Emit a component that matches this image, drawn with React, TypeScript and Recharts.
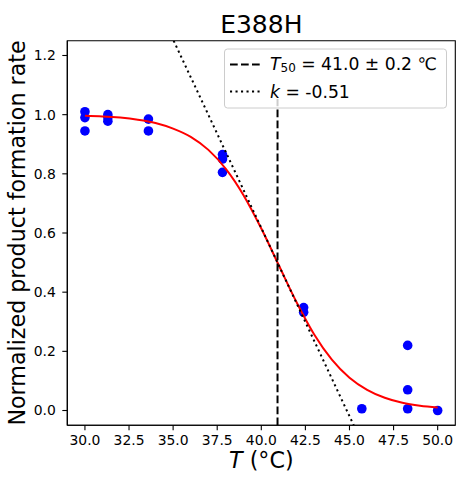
import React from 'react';
import { ComposedChart, XAxis, YAxis, Scatter, Line, ReferenceArea } from 'recharts';

const FONT = '"DejaVu Sans", sans-serif';

const xTicks = [30, 32.5, 35, 37.5, 40, 42.5, 45, 47.5, 50];
const yTicks = [0, 0.2, 0.4, 0.6, 0.8, 1.0, 1.2];
const xDomain = [29, 51];
const yDomain = [-0.05, 1.25];

// measured points
const measuredTemps = [30, 30, 30, 31.3, 31.3, 31.3, 33.6, 33.6, 37.8, 37.8, 37.8, 42.4, 42.4, 45.7, 48.3, 48.3, 48.3, 50];
const measuredRates = [1.01, 0.99, 0.945, 1.0, 0.99, 0.978, 0.985, 0.945, 0.865, 0.85, 0.805, 0.348, 0.332, 0.006, 0.22, 0.07, 0.006, 0.0];

// fitted sigmoid curve
const fitTemps = [30, 31, 32, 33, 34, 35, 36, 37, 38, 39, 40, 41, 42, 43, 44, 45, 46, 47, 48, 49, 50];
const fitRates = [0.996, 0.994, 0.99, 0.983, 0.972, 0.953, 0.925, 0.881, 0.816, 0.727, 0.615, 0.49, 0.366, 0.257, 0.172, 0.111, 0.07, 0.043, 0.026, 0.016, 0.01];

// T50 marker line
const t50Temps = [40.92, 40.92];
const t50Rates = [-0.05, 1.053];

// tangent (slope) line
const slopeTemps = [35.03, 45.24];
const slopeRates = [1.25, -0.05];

const zip = (ts: number[], vs: number[]) => ts.map((t, i) => ({ t, v: vs[i] }));

const measured = zip(measuredTemps, measuredRates);
const fit = zip(fitTemps, fitRates);
const t50 = zip(t50Temps, t50Rates);
const slope = zip(slopeTemps, slopeRates);

const W = 464;
const H = 487;

const dot = (p: any) => <circle cx={p.cx} cy={p.cy} r={4.8} fill="#0000ff" />;

export default function App() {
  return (
    <div style={{ position: 'absolute', left: 0, top: 0, width: W, height: H, background: '#fff' }}>
      <ComposedChart
        width={W}
        height={H}
        margin={{ top: 40.7, right: 8.7, bottom: 31.7, left: 7.3 }}
      >
        <XAxis
          type="number"
          dataKey="t"
          domain={xDomain}
          allowDataOverflow
          ticks={xTicks}
          interval={0}
          tickFormatter={(v: number) => v.toFixed(1)}
          height={30}
          tickSize={5}
          tickMargin={5}
          axisLine={{ stroke: '#000', strokeWidth: 1.1 }}
          tickLine={{ stroke: '#000', strokeWidth: 1.1 }}
          tick={{ fill: '#000', fontSize: 13.9, fontFamily: FONT }}
        />
        <YAxis
          type="number"
          dataKey="v"
          domain={yDomain}
          allowDataOverflow
          ticks={yTicks}
          interval={0}
          tickFormatter={(v: number) => v.toFixed(1)}
          width={60}
          tickSize={5}
          tickMargin={6.5}
          axisLine={{ stroke: '#000', strokeWidth: 1.1 }}
          tickLine={{ stroke: '#000', strokeWidth: 1.1 }}
          tick={{ fill: '#000', fontSize: 13.9, fontFamily: FONT }}
        />
        <Scatter data={measured} dataKey="v" shape={dot} isAnimationActive={false} zIndex={300} />
        <Line
          data={fit}
          dataKey="v"
          type="monotone"
          stroke="#ff0000"
          strokeWidth={2}
          dot={false}
          activeDot={false}
          isAnimationActive={false}
          zIndex={700}
        />
        <Line
          data={t50}
          dataKey="v"
          type="linear"
          stroke="#000"
          strokeWidth={2}
          strokeDasharray="7.7 3.3"
          dot={false}
          activeDot={false}
          isAnimationActive={false}
          zIndex={700}
        />
        <Line
          data={slope}
          dataKey="v"
          type="linear"
          stroke="#000"
          strokeWidth={2}
          strokeDasharray="2.1 3.4"
          dot={false}
          activeDot={false}
          isAnimationActive={false}
          zIndex={700}
        />
        <ReferenceArea
          x1={xDomain[0]}
          x2={xDomain[1]}
          y1={yDomain[0]}
          y2={yDomain[1]}
          fill="none"
          fillOpacity={0}
          stroke="#000"
          strokeWidth={1.1}
          ifOverflow="visible"
        />
      </ComposedChart>
      <svg
        width={W}
        height={H}
        style={{ position: 'absolute', left: 0, top: 0, pointerEvents: 'none' }}
        fontFamily={FONT}
      >
        <text x={261.3} y={32.7} textAnchor="middle" fontSize={25} fill="#000">E388H</text>
        <text x={261.3} y={468.3} textAnchor="middle" fontSize={22.2} fill="#000">
          <tspan fontStyle="italic">T</tspan> (°C)
        </text>
        <text
          x={25}
          y={233}
          transform="rotate(-90 25 233)"
          textAnchor="middle"
          fontSize={22.2}
          fill="#000"
        >
          Normalized product formation rate
        </text>
        <rect x={224.5} y={49} width={222} height={59} rx={3} fill="#fff" fillOpacity={0.8} stroke="#cccccc" strokeWidth={1} />
        <line x1={230} x2={260} y1={64.5} y2={64.5} stroke="#000" strokeWidth={2} strokeDasharray="7.7 3.3" />
        <line x1={230} x2={260} y1={91.5} y2={91.5} stroke="#000" strokeWidth={2} strokeDasharray="2.1 3.4" />
        <text x={270} y={69.5} fontSize={17.2} fill="#000">
          <tspan fontStyle="italic">T</tspan>
          <tspan fontSize={12} dy={2}>50</tspan>
          <tspan dy={-2}> = 41.0 ± 0.2 ℃</tspan>
        </text>
        <text x={270} y={97.5} fontSize={17.2} fill="#000">
          <tspan fontStyle="italic">k</tspan> = -0.51
        </text>
      </svg>
    </div>
  );
}
